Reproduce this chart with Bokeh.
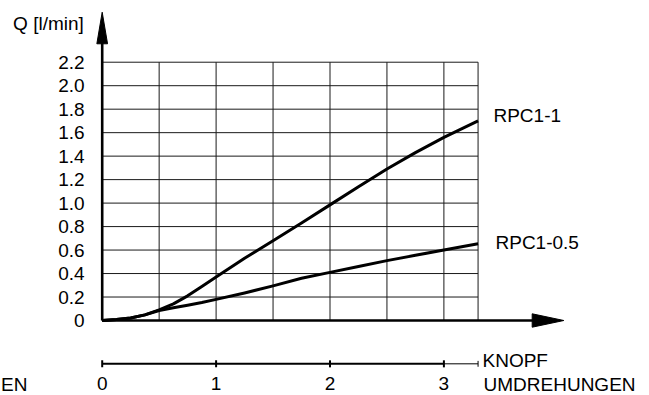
from bokeh.plotting import figure
from bokeh.models import Range1d
from bokeh.core.properties import value
from bokeh.embed import file_html
from bokeh.resources import INLINE

# ---- data ----
turns = [0, 0.125, 0.25, 0.375, 0.5, 0.625, 0.75, 0.875, 1.0, 1.25, 1.5, 1.75,
         2.0, 2.25, 2.5, 2.75, 3.0, 3.3]
rpc1_1 = [0, 0.008, 0.022, 0.048, 0.09, 0.142, 0.21, 0.29, 0.37, 0.53, 0.68, 0.83,
          0.985, 1.14, 1.29, 1.43, 1.56, 1.70]
rpc1_05 = [0, 0.008, 0.022, 0.048, 0.085, 0.108, 0.13, 0.153, 0.18, 0.235, 0.295, 0.36,
           0.41, 0.46, 0.51, 0.555, 0.60, 0.653]
series_names = ["RPC1-1", "RPC1-0.5"]
y_ticks = [0, 0.2, 0.4, 0.6, 0.8, 1.0, 1.2, 1.4, 1.6, 1.8, 2.0, 2.2]
y_tick_labels = ["0", "0.2", "0.4", "0.6", "0.8", "1.0", "1.2", "1.4", "1.6", "1.8", "2.0", "2.2"]
x_grid = [0, 0.5, 1.0, 1.5, 2.0, 2.5, 3.0, 3.3]
turn_ticks = [0, 1, 2, 3]
turn_labels = ["0", "1", "2", "3"]
y_title = "Q [l/min]"
x_title_1 = "KNOPF"
x_title_2 = "UMDREHUNGEN"
edge_fragment = "EN"

FONT = value("Liberation Sans")
FS = "19px"

W, H = 649, 395
p = figure(width=W, height=H, min_border=0, x_axis_type=None, y_axis_type=None,
           toolbar_location=None, output_backend="svg", outline_line_color=None,
           background_fill_color="white", border_fill_color="white")
p.x_range = Range1d(-0.8929, 4.8051)
p.y_range = Range1d(-0.6388, 2.7257)

xmax = x_grid[-1]
ymax = y_ticks[-1]

# grid
p.segment(x0=[0] * len(y_ticks), x1=[xmax] * len(y_ticks), y0=y_ticks, y1=y_ticks,
          line_color="#1a1a1a", line_width=1)
p.segment(x0=x_grid, x1=x_grid, y0=[0] * len(x_grid), y1=[ymax] * len(x_grid),
          line_color="#1a1a1a", line_width=1)

# axes with arrows
y_tip, y_base, y_half = 2.626, 2.357, 0.047
x_tip, x_base, x_half = 4.053, 3.775, 0.057
p.line([0, 0], [0, y_base + 0.02], line_color="black", line_width=2.6)
p.patch([-y_half, y_half, 0], [y_base, y_base, y_tip], color="black")
p.line([0, x_base + 0.02], [0, 0], line_color="black", line_width=2.6)
p.patch([x_base, x_base, x_tip], [-x_half, x_half, 0], color="black")

# curves
p.line(turns, rpc1_1, line_color="black", line_width=3, line_join="round")
p.line(turns, rpc1_05, line_color="black", line_width=3, line_join="round")

# y tick labels
p.text(x=[-0.155] * len(y_ticks), y=y_ticks, text=y_tick_labels, text_align="right",
       text_baseline="middle", text_font=FONT, text_font_size=FS, text_color="black")
p.text(x=[-0.1615], y=[2.53], text=[y_title], text_align="right",
       text_baseline="middle", text_font=FONT, text_font_size=FS, text_color="black")

# series labels
p.text(x=[3.435, 3.453], y=[1.746, 0.664], text=series_names, text_align="left",
       text_baseline="middle", text_font=FONT, text_font_size=FS, text_color="black")

# lower turn scale
ys = -0.369
p.line([turn_ticks[0], turn_ticks[-1]], [ys, ys], line_color="black", line_width=2)
p.line([turn_ticks[-1], xmax], [ys, ys], line_color="black", line_width=1)
p.segment(x0=turn_ticks, x1=turn_ticks, y0=[ys - 0.03] * 4, y1=[ys + 0.03] * 4,
          line_color="black", line_width=2)
p.segment(x0=[xmax], x1=[xmax], y0=[ys - 0.025], y1=[ys + 0.025],
          line_color="black", line_width=1)
p.text(x=turn_ticks, y=[-0.537] * 4, text=turn_labels, text_align="center",
       text_baseline="middle", text_font=FONT, text_font_size=FS, text_color="black")
p.text(x=[3.339, 3.348], y=[-0.341, -0.545], text=[x_title_1, x_title_2],
       text_align="left", text_baseline="middle", text_font=FONT, text_font_size=FS,
       text_color="black")
# fragment of the neighbouring panel's label at the left edge
p.text(x=[-0.888], y=[-0.545], text=[edge_fragment], text_align="left",
       text_baseline="middle", text_font=FONT, text_font_size=FS, text_color="black")

open("out.html", "w").write(file_html(p, INLINE))
